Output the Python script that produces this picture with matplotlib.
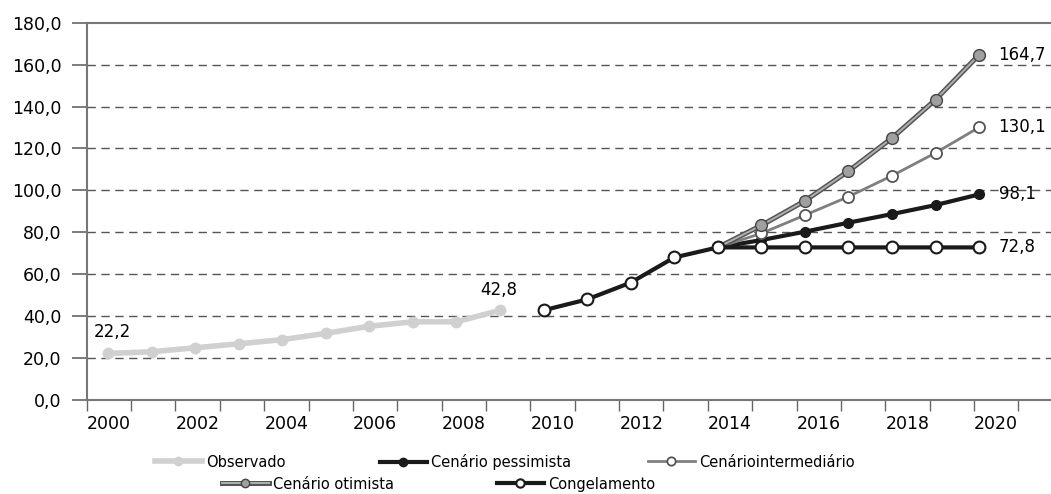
import numpy as np
import matplotlib
matplotlib.use('Agg')
import matplotlib.pyplot as plt
from matplotlib.ticker import FuncFormatter
from matplotlib.lines import Line2D
from matplotlib.legend_handler import HandlerTuple

plt.rcParams['font.family'] = ['DejaVu Sans']

# Observed series
obs_years = [2000, 2001, 2002, 2003, 2004, 2005, 2006, 2007, 2008, 2009]
obs_vals = [22.2, 23.0, 24.9, 26.8, 28.8, 31.8, 35.2, 37.3, 37.3, 42.8]

# Congelamento (includes the common part 2010-2014)
cong_years = [2010, 2011, 2012, 2013, 2014, 2015, 2016, 2017, 2018, 2019, 2020]
cong_vals = [42.8, 48.0, 56.0, 68.0, 72.8, 72.8, 72.8, 72.8, 72.8, 72.8, 72.8]

# Scenarios from 2014
scen_years = [2014, 2015, 2016, 2017, 2018, 2019, 2020]
pess_vals = [72.8, 76.3, 80.3, 84.6, 88.7, 93.0, 98.1]
inter_vals = [72.8, 79.5, 88.2, 97.0, 107.0, 117.9, 130.1]
otim_vals = [72.8, 83.3, 95.0, 109.2, 125.0, 143.3, 164.7]

year_labels = [2000, 2002, 2004, 2006, 2008, 2010, 2012, 2014, 2016, 2018, 2020]
yticks = [0, 20, 40, 60, 80, 100, 120, 140, 160, 180]

fig = plt.figure(figsize=(10.51, 4.94), dpi=100)
ax = fig.add_axes([0.0825, 0.1903, 0.9175, 0.7637])

h_obs, = ax.plot(obs_years, obs_vals, color='#d0d0d0', lw=4.0, marker='o', ms=7.5,
                 mfc='#d0d0d0', mec='#d0d0d0', zorder=3)
h_pess, = ax.plot(scen_years, pess_vals, color='#1a1a1a', lw=3.0, marker='o', ms=7,
                  mfc='#1a1a1a', mec='#1a1a1a', zorder=3)
h_inter, = ax.plot(scen_years, inter_vals, color='#7f7f7f', lw=2.0, marker='o', ms=8,
                   mfc='white', mec='#555555', mew=1.3, zorder=4)
# double line for otimista: dark outline under a lighter core
h_otim_a, = ax.plot(scen_years, otim_vals, color='#555555', lw=3.6, zorder=5)
h_otim_b, = ax.plot(scen_years, otim_vals, color='#b0b0b0', lw=1.4, marker='o', ms=8.5,
                    mfc='#a0a0a0', mec='#444444', mew=1.0, zorder=5)
h_cong, = ax.plot(cong_years, cong_vals, color='#1a1a1a', lw=3.0, marker='o', ms=8.5,
                  mfc='white', mec='#1a1a1a', mew=1.5, zorder=6)

# data labels
ax.annotate('22,2', (obs_years[0], obs_vals[0]), xytext=(3, 9), textcoords='offset points',
            ha='center', va='bottom', fontsize=12)
ax.annotate('42,8', (obs_years[-1], obs_vals[-1]), xytext=(-1, 8), textcoords='offset points',
            ha='center', va='bottom', fontsize=12)
for v, txt in [(otim_vals[-1], '164,7'), (inter_vals[-1], '130,1'),
               (pess_vals[-1], '98,1'), (cong_vals[-1], '72,8')]:
    ax.annotate(txt, (scen_years[-1], v), xytext=(14, 0), textcoords='offset points',
                ha='left', va='center', fontsize=12)

# axes
x0 = 1999.51
step = 1.0186
ax.set_xlim(x0, 2021.65)
ax.set_ylim(0, 180)
ax.set_xticks([x0 + step * (y - 2000 + 0.5) for y in year_labels])
ax.set_xticklabels([str(y) for y in year_labels])
ax.set_xticks([x0 + step * k for k in range(22)], minor=True)
ax.tick_params(axis='x', which='major', length=0, pad=11, labelsize=12.5)
ax.tick_params(axis='x', which='minor', length=8, width=1, color='#666666', direction='out')
ax.set_yticks(yticks)
ax.yaxis.set_major_formatter(FuncFormatter(lambda v, p: ('%.1f' % v).replace('.', ',')))
ax.tick_params(axis='y', length=11, width=1.2, color='#666666', pad=7, labelsize=12.5)

for v in yticks[1:-1]:
    ax.axhline(v, color='#555555', lw=1, ls=(0, (6, 4)), zorder=1)

for s in ['left', 'bottom', 'top']:
    ax.spines[s].set_color('#777777')
    ax.spines[s].set_linewidth(1.5)
ax.spines['right'].set_visible(False)


# legend handles with smaller markers
def lh(src, ms):
    return Line2D([], [], color=src.get_color(), lw=src.get_linewidth(), marker='o', ms=ms,
                  mfc=src.get_markerfacecolor(), mec=src.get_markeredgecolor(),
                  mew=src.get_markeredgewidth())


otim_leg = (Line2D([], [], color='#555555', lw=3.6), lh(h_otim_b, 6))
entries = [
    (lh(h_obs, 6), 'Observado', 155, 462),
    (lh(h_pess, 6), 'Cenário pessimista', 380, 462),
    (lh(h_inter, 6), 'Cenáriointermediário', 648, 462),
    (otim_leg, 'Cenário otimista', 222, 484),
    (lh(h_cong, 6), 'Congelamento', 497, 484),
]
for handle, label, px, py in entries:
    fig.legend([handle], [label], loc='center left',
               bbox_to_anchor=(px / 1051, 1 - py / 494), frameon=False,
               fontsize=10.5, handlelength=3.2, handletextpad=0.3,
               borderpad=0, borderaxespad=0,
               handler_map={tuple: HandlerTuple(ndivide=1)})

fig.savefig('out.png', dpi=100)
